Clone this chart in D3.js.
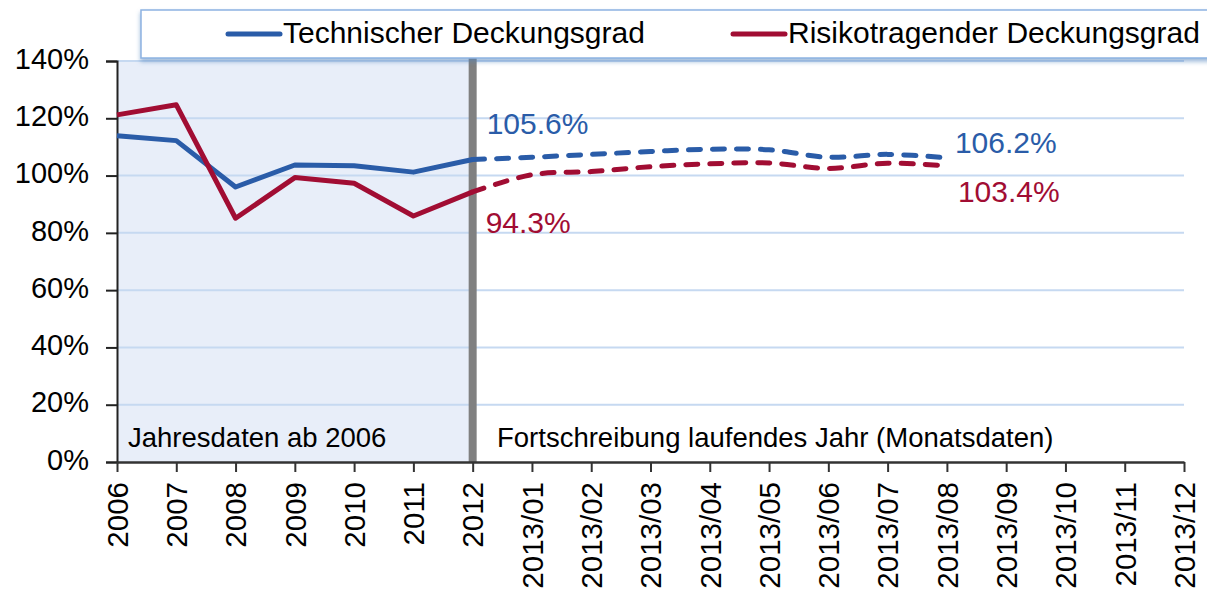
<!DOCTYPE html>
<html>
<meta charset="utf-8">
<head>
	<title>Deckungsgrad</title>
	<script type="text/javascript" src="https://cdn.jsdelivr.net/npm/d3@7/dist/d3.min.js"></script>
	<style>
		body { margin: 0; background: #fff; }
		svg { display: block; font-family: "Liberation Sans", Arial, sans-serif; }
	</style>
</head>
<body>
	<div class="chart-container"></div>
</body>
</html>

<script type="text/javascript">
// categories on the x axis
var categories = ["2006", "2007", "2008", "2009", "2010", "2011", "2012",
	"2013/01", "2013/02", "2013/03", "2013/04", "2013/05", "2013/06",
	"2013/07", "2013/08", "2013/09", "2013/10", "2013/11", "2013/12"];

// values in percent, 2006 .. 2013/08
var technisch = [113.9, 112.2, 96.0, 103.7, 103.4, 101.2, 105.6,
	106.4, 107.4, 108.4, 109.2, 109.0, 106.4, 107.4, 106.2];
var risiko = [121.2, 124.7, 85.1, 99.3, 97.3, 85.9, 94.3,
	100.3, 101.4, 103.1, 104.1, 104.4, 102.5, 104.3, 103.4];

var yTicks = [0, 20, 40, 60, 80, 100, 120, 140];
var seriesNames = ["Technischer Deckungsgrad", "Risikotragender Deckungsgrad"];
var annotations = ["Jahresdaten ab 2006", "Fortschreibung laufendes Jahr (Monatsdaten)"];

var blue = "#2a5ca8", red = "#a10d33";
var width = 1207, height = 590;
var lastYear = "2012"; // split between yearly and monthly data

var svg = d3.select(".chart-container").append("svg")
	.attr("width", width)
	.attr("height", height);

var x = d3.scalePoint().domain(categories).range([117, 1184]);
var y = d3.scaleLinear().domain([0, 140]).range([462, 61]);

var defs = svg.append("defs");
var shadow = defs.append("filter").attr("id", "shadow")
	.attr("x", "-5%").attr("y", "-20%").attr("width", "110%").attr("height", "160%");
shadow.append("feDropShadow")
	.attr("dx", 0).attr("dy", 3).attr("stdDeviation", 2)
	.attr("flood-color", "#4f81bd").attr("flood-opacity", 0.55);

// shaded area for yearly data
svg.append("rect")
	.attr("x", x("2006"))
	.attr("y", y(140))
	.attr("width", x(lastYear) - x("2006"))
	.attr("height", y(0) - y(140))
	.attr("fill", "#e8eef9");

// gridlines
svg.append("g").selectAll("line")
	.data(yTicks.filter(function(d) { return d > 0; }))
	.enter().append("line")
	.attr("x1", x.range()[0]).attr("x2", x.range()[1])
	.attr("y1", function(d) { return y(d); })
	.attr("y2", function(d) { return y(d); })
	.attr("stroke", "#c6d9f1")
	.attr("stroke-width", 2);

// separator bar
svg.append("line")
	.attr("x1", x(lastYear)).attr("x2", x(lastYear))
	.attr("y1", 58).attr("y2", y(0))
	.attr("stroke", "#808080")
	.attr("stroke-width", 8);

// axes
var yAxis = svg.append("g")
	.attr("transform", "translate(" + x.range()[0] + ",0)")
	.call(d3.axisLeft(y).tickValues(yTicks).tickSize(11).tickPadding(17)
		.tickFormat(function(d) { return d + "%"; }));
yAxis.select(".domain").attr("stroke", "#222").attr("stroke-width", 2);
yAxis.selectAll(".tick line").attr("stroke", "#222").attr("stroke-width", 2);
yAxis.selectAll("text")
	.attr("font-size", 29)
	.attr("fill", "#000")
	.attr("dy", "0.25em")
	.style("font-family", "Liberation Sans, Arial, sans-serif");

var xAxis = svg.append("g")
	.attr("transform", "translate(0," + y(0) + ")")
	.call(d3.axisBottom(x).tickSize(10).tickSizeOuter(0));
xAxis.select(".domain").attr("stroke", "#333").attr("stroke-width", 2.5);
xAxis.selectAll(".tick line").attr("stroke", "#333").attr("stroke-width", 2);
xAxis.selectAll("text")
	.attr("font-size", 29.5)
	.attr("fill", "#000")
	.attr("transform", "rotate(-90)")
	.attr("text-anchor", "end")
	.attr("x", -20)
	.attr("y", 0)
	.attr("dy", "0.35em")
	.style("font-family", "Liberation Sans, Arial, sans-serif");

// lines: solid for yearly, dashed + smoothed for monthly
var split = categories.indexOf(lastYear);

function drawSeries(values, color) {
	var pts = values.map(function(v, i) { return [x(categories[i]), y(v)]; });
	svg.append("path")
		.attr("d", d3.line()(pts.slice(0, split + 1)))
		.attr("fill", "none")
		.attr("stroke", color)
		.attr("stroke-width", 5)
		.attr("stroke-linejoin", "round");
	svg.append("path")
		.attr("d", d3.line().curve(d3.curveCatmullRom)(pts.slice(split)))
		.attr("fill", "none")
		.attr("stroke", color)
		.attr("stroke-width", 5)
		.attr("stroke-linecap", "round")
		.attr("stroke-dasharray", "12,12");
}
drawSeries(technisch, blue);
drawSeries(risiko, red);

// value labels
var last = technisch.length - 1;
var labels = [
	{ v: technisch[split], x: x(lastYear) + 14, y: 134, c: blue },
	{ v: risiko[split], x: x(lastYear) + 13, y: 233, c: red },
	{ v: technisch[last], x: x(categories[last]) + 8, y: 153, c: blue },
	{ v: risiko[last], x: x(categories[last]) + 11, y: 202, c: red }
];
svg.append("g").selectAll("text")
	.data(labels)
	.enter().append("text")
	.attr("x", function(d) { return d.x; })
	.attr("y", function(d) { return d.y; })
	.attr("fill", function(d) { return d.c; })
	.attr("font-size", 30)
	.text(function(d) { return d.v.toFixed(1) + "%"; });

// region captions
svg.append("text")
	.attr("x", 128).attr("y", 447)
	.attr("font-size", 27.5)
	.text(annotations[0]);
svg.append("text")
	.attr("x", 497).attr("y", 447)
	.attr("font-size", 27.5)
	.text(annotations[1]);

// legend
var legend = svg.append("g");
legend.append("rect")
	.attr("x", 141).attr("y", 10)
	.attr("width", 1090).attr("height", 48)
	.attr("fill", "#fff")
	.attr("stroke", "#8db3e2")
	.attr("stroke-width", 1.5)
	.attr("filter", "url(#shadow)");

var legendX = [228, 733];
[blue, red].forEach(function(c, i) {
	legend.append("line")
		.attr("x1", legendX[i]).attr("x2", legendX[i] + 52)
		.attr("y1", 34).attr("y2", 34)
		.attr("stroke", c)
		.attr("stroke-width", 5)
		.attr("stroke-linecap", "round");
	legend.append("text")
		.attr("x", legendX[i] + 55).attr("y", 43)
		.attr("font-size", 30)
		.text(seriesNames[i]);
});
</script>
